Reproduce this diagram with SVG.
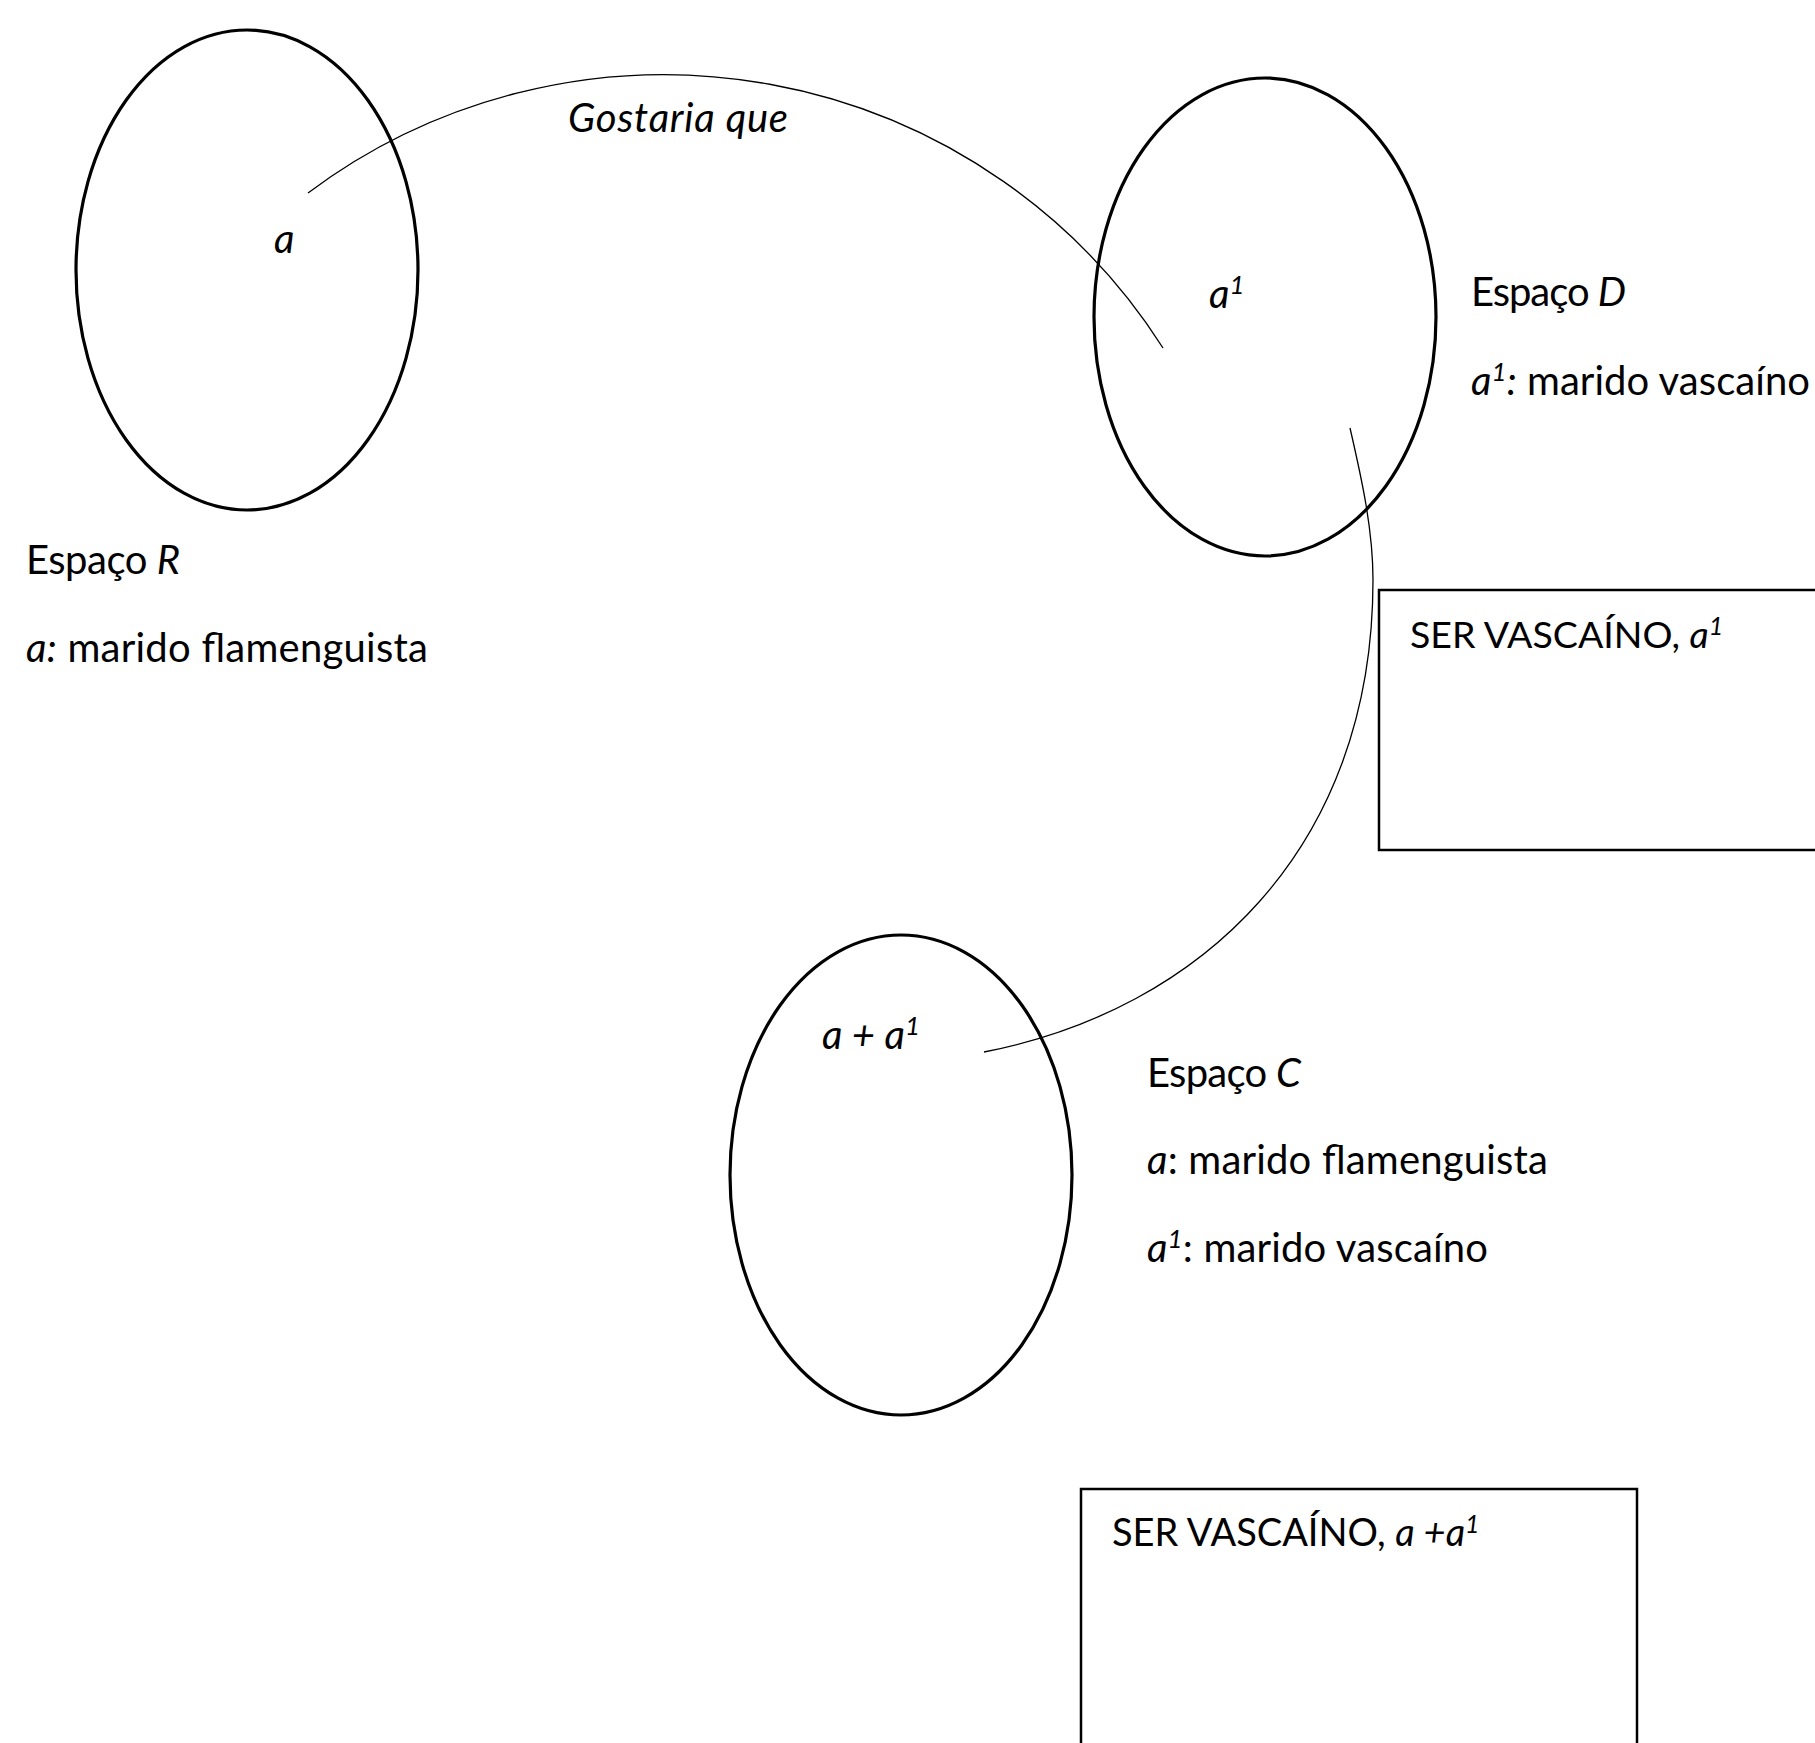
<svg xmlns="http://www.w3.org/2000/svg" width="1815" height="1743" viewBox="0 0 1815 1743">
  <style>
    .space { fill: none; stroke: #000; stroke-width: 3.2; }
    .frame { fill: none; stroke: #000; stroke-width: 2.5; }
    .link { fill: none; stroke: #000; stroke-width: 1.3; }
    text { font-family: Lato, "Open Sans", "Liberation Sans", sans-serif; font-size: 40px; fill: #000; }
    .it { font-style: italic; }
    .sup { font-size: 26px; font-style: italic; }
    .title { font-size: 38px; }
    .title .sup { font-size: 25px; }
  </style>
  <rect width="1815" height="1743" fill="#fff"/>

  <!-- mental spaces -->
  <g id="space-r">
    <ellipse class="space" cx="247" cy="270" rx="171" ry="240"/>
    <text x="274" y="253" class="it">a</text>
  </g>
  <g id="space-d">
    <ellipse class="space" cx="1265" cy="317" rx="171" ry="239"/>
    <text x="1209" y="308"><tspan class="it">a</tspan><tspan class="sup" dy="-14">1</tspan></text>
  </g>
  <g id="space-c">
    <ellipse class="space" cx="901" cy="1175" rx="171" ry="240"/>
    <text x="822" y="1049" textLength="98" lengthAdjust="spacing"><tspan class="it">a + a</tspan><tspan class="sup" dy="-14">1</tspan></text>
  </g>

  <!-- legends -->
  <g id="legend-r">
    <text x="26" y="574" textLength="154" lengthAdjust="spacing">Espaço <tspan class="it">R</tspan></text>
    <text x="26" y="662" textLength="402" lengthAdjust="spacing"><tspan class="it">a:</tspan> marido flamenguista</text>
  </g>
  <g id="legend-d">
    <text x="1471" y="306" textLength="155" lengthAdjust="spacing">Espaço <tspan class="it">D</tspan></text>
    <text x="1471" y="395" textLength="339" lengthAdjust="spacing"><tspan class="it">a</tspan><tspan class="sup" dy="-14">1</tspan><tspan class="it" dy="14">:</tspan> marido vascaíno</text>
  </g>
  <g id="legend-c">
    <text x="1147" y="1087" textLength="154" lengthAdjust="spacing">Espaço <tspan class="it">C</tspan></text>
    <text x="1147" y="1174" textLength="401" lengthAdjust="spacing"><tspan class="it">a</tspan>: marido flamenguista</text>
    <text x="1147" y="1262" textLength="341" lengthAdjust="spacing"><tspan class="it">a</tspan><tspan class="sup" dy="-14">1</tspan><tspan dy="14">: marido vascaíno</tspan></text>
  </g>

  <!-- frames -->
  <g id="frame-d">
    <rect class="frame" x="1379" y="590" width="460" height="260"/>
    <text x="1410" y="648" class="title" style="font-size:37.5px">SER VASCAÍNO, <tspan class="it">a</tspan><tspan class="sup" dy="-13">1</tspan></text>
  </g>
  <g id="frame-c">
    <rect class="frame" x="1081" y="1489" width="556" height="280"/>
    <text x="1112" y="1546" class="title">SER VASCAÍNO, <tspan class="it">a +a</tspan><tspan class="sup" dy="-13">1</tspan></text>
  </g>

  <!-- connectors -->
  <g id="connectors">
    <path class="link" d="M308,193 A590,585 0 0 1 1163,348"/>
    <path class="link" d="M1350,428 C1362,480 1373,530 1373,580 C1373,850 1200,1010 984,1052"/>
    <text x="568" y="132" class="it" textLength="220" lengthAdjust="spacing">Gostaria que</text>
  </g>
</svg>
